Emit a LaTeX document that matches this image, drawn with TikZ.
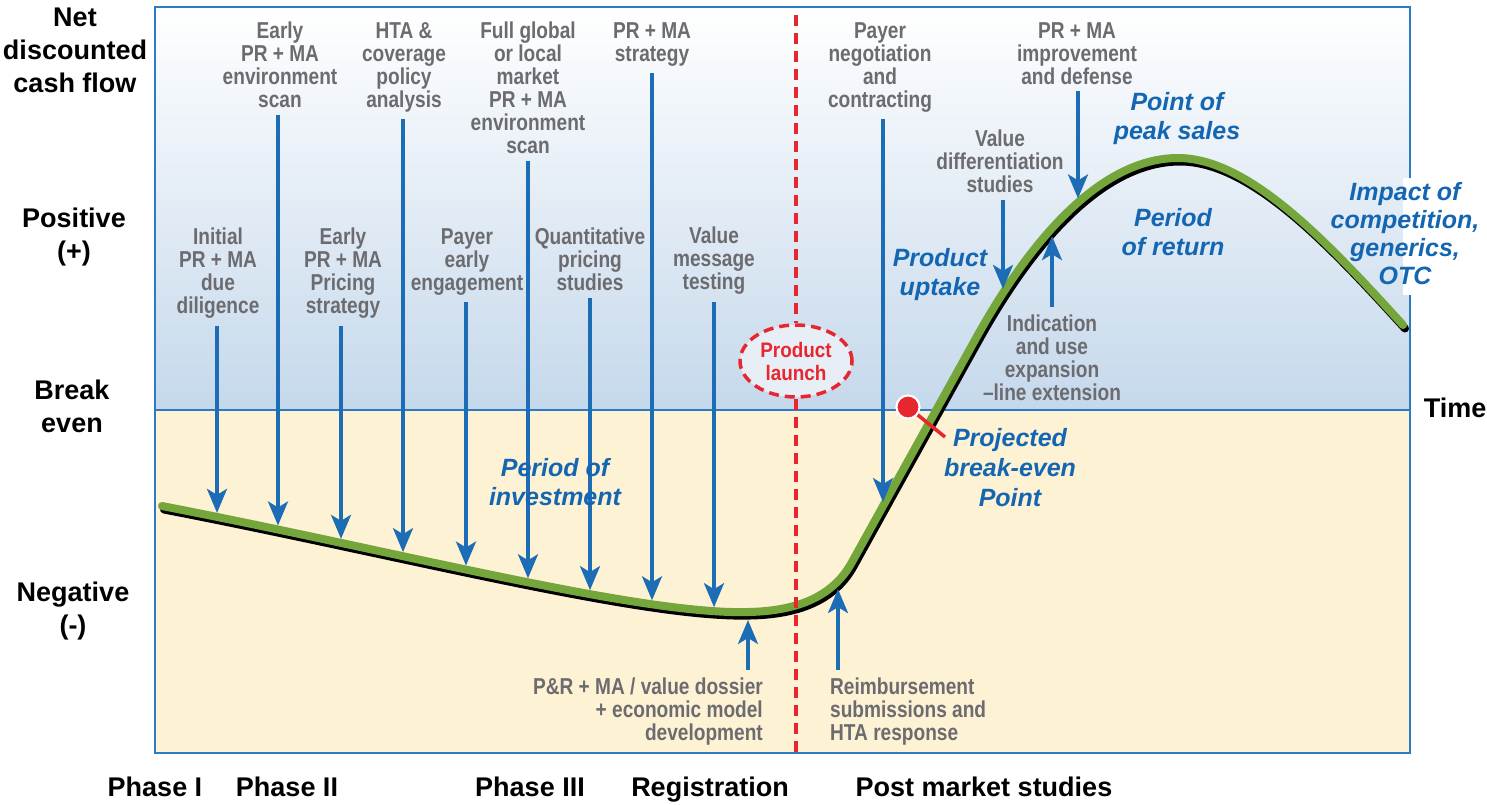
\documentclass[tikz,border=0pt]{standalone}
\usepackage{fontspec}
\setmainfont{Liberation Sans}
\newfontfamily\condfont[FakeStretch=0.83]{Liberation Sans}
\newfontfamily\redfont[FakeStretch=0.9]{Liberation Sans}
\usetikzlibrary{arrows.meta,intersections,shapes.geometric}
\definecolor{graytxt}{RGB}{108,108,112}
\definecolor{bluetxt}{RGB}{20,102,178}
\definecolor{arrblue}{RGB}{28,108,182}
\definecolor{framec}{RGB}{43,124,196}
\definecolor{bgblue}{RGB}{197,216,235}
\definecolor{cream}{RGB}{254,242,212}
\definecolor{curvegreen}{RGB}{116,166,60}
\definecolor{launchred}{RGB}{232,38,47}
\definecolor{ellfill}{RGB}{232,238,246}
\tikzset{
  glabel/.style={font=\condfont\bfseries\fontsize{23}{23}\selectfont, text=graytxt, align=center, inner sep=0pt},
  blabel/.style={font=\bfseries\itshape\fontsize{25}{29}\selectfont, text=bluetxt, align=center, inner sep=0pt},
  klabel/.style={font=\bfseries\fontsize{27}{33}\selectfont, text=black, align=center, inner sep=0pt},
  arr/.style={draw=arrblue, line width=3.5pt, -{Stealth[length=24pt,width=20pt,inset=6pt]}},
  reddash/.style={draw=launchred, line width=3.5pt, dash pattern=on 11pt off 7pt},
}
\begin{document}
\begin{tikzpicture}[x=1pt,y=-1pt]
\useasboundingbox (0,0) rectangle (1487,804);
% backgrounds
\shade[top color=white, bottom color=bgblue] (155,7) rectangle (1410,410);
\fill[cream] (155,410) rectangle (1410,753);
\draw[framec, line width=2pt] (155,410) -- (1410,410);
\draw[framec, line width=2pt] (155,7) rectangle (1410,753);
\fill[white] (1403,178) rectangle (1417,295);

% curve
\path[name path=curve] (162,506) .. controls (400,552) and (640,615) .. (748,612) .. controls (800,611) and (834,595) .. (852,562) -- (975,340) .. controls (1040,222) and (1110,158) .. (1178,158) .. controls (1250,158) and (1330,245) .. (1403,325);
\draw[black, line width=8pt, line cap=round, shift={(2,3.5)}] (162,506) .. controls (400,552) and (640,615) .. (748,612) .. controls (800,611) and (834,595) .. (852,562) -- (975,340) .. controls (1040,222) and (1110,158) .. (1178,158) .. controls (1250,158) and (1330,245) .. (1403,325);
\draw[curvegreen, line width=8pt, line cap=round] (162,506) .. controls (400,552) and (640,615) .. (748,612) .. controls (800,611) and (834,595) .. (852,562) -- (975,340) .. controls (1040,222) and (1110,158) .. (1178,158) .. controls (1250,158) and (1330,245) .. (1403,325);

% points on the curve
\foreach \n/\xx in {1/217,2/278,3/341,4/403,5/466,6/528,7/590,8/652,9/714,10/883,11/1003,12/1078,13/1052,14/748,15/838}{
  \path[name path=vl] (\xx,0) -- (\xx,800);
  \path[name intersections={of=curve and vl, by={c\n}}];
}

% product launch
\coordinate (lt) at (796,15);
\coordinate (lb) at (796,752);
\node[ellipse, draw=launchred, line width=3.5pt, dash pattern=on 10pt off 6pt, fill=ellfill,
      minimum width=112pt, minimum height=72pt, inner sep=0pt, align=center,
      font=\redfont\bfseries\fontsize{21}{23}\selectfont, text=launchred] (launch) at (796,361) {Product\\launch};
\draw[reddash] (lt) -- (launch.north);
\draw[reddash] (launch.south) -- (lb);

% gray labels
\node[glabel, anchor=north] (l1) at (218,228) {Initial\\PR + MA\\due\\diligence};
\node[glabel, anchor=north] (l2) at (280,22) {Early\\PR + MA\\environment\\scan};
\node[glabel, anchor=north] (l3) at (343,228) {Early\\PR + MA\\Pricing\\strategy};
\node[glabel, anchor=north] (l4) at (404,22) {HTA \&\\coverage\\policy\\analysis};
\node[glabel, anchor=north] (l5) at (467,228) {Payer\\early\\engagement};
\node[glabel, anchor=north] (l6) at (528,22) {Full global\\or local\\market\\PR + MA\\environment\\scan};
\node[glabel, anchor=north] (l7) at (590,228) {Quantitative\\pricing\\studies};
\node[glabel, anchor=north] (l8) at (652,22) {PR + MA\\strategy};
\node[glabel, anchor=north] (l9) at (714,227) {Value\\message\\testing};
\node[glabel, anchor=north] (l10) at (880,22) {Payer\\negotiation\\and\\contracting};
\node[glabel, anchor=north] (l11) at (1000,130) {Value\\differentiation\\studies};
\node[glabel, anchor=north] (l12) at (1077,22) {PR + MA\\improvement\\and defense};
\node[glabel, anchor=north] (l13) at (1052,315) {Indication\\and use\\expansion\\–line extension};
\node[glabel, anchor=north east, align=right] (l14) at (763,678) {P\&R + MA / value dossier\\+ economic model\\development};
\node[glabel, anchor=north west, align=left] (l15) at (830,678) {Reimbursement\\submissions and\\HTA response};

% arrows
\foreach \i in {1,...,12}{
  \draw[arr, shorten <=7pt] (l\i.south -| c\i) -- ([yshift=4pt]c\i);
}
\foreach \i in {13,14,15}{
  \draw[arr, shorten <=8pt] (c\i |- l\i.north) -- ([yshift=-8pt]c\i);
}

% break-even point
\coordinate (bend) at (945,437);
\node[circle, fill=launchred, draw=white, line width=2pt, minimum size=23pt, inner sep=0pt] (bedot) at (908,407) {};
\draw[launchred, line width=3.5pt] (bedot.center) -- (bend);
\node[circle, fill=launchred, draw=white, line width=2pt, minimum size=23pt, inner sep=0pt] at (bedot) {};

% blue italic labels
\node[blabel, anchor=north] (inv) at (555,458) {Period of\\investment};
\node[blabel, anchor=north] (upt) at (940,248) {Product\\uptake};
\node[blabel, anchor=north] (peak) at (1177,92) {Point of\\peak sales};
\node[blabel, anchor=north] (ret) at (1173,208) {Period\\of return};
\node[blabel, anchor=north, font=\bfseries\itshape\fontsize{25}{28}\selectfont] (imp) at (1405,182) {Impact of\\competition,\\generics,\\OTC};
\node[blabel, anchor=north, font=\bfseries\itshape\fontsize{25}{30}\selectfont] (bep) at (1010,428) {Projected\\break-even\\Point};

% black axis labels
\node[klabel, anchor=north] (net) at (75,8) {Net\\discounted\\cash flow};
\node[klabel, anchor=north] (pos) at (74,208) {Positive\\(+)};
\node[klabel, anchor=north] (be) at (72,380) {Break\\even};
\node[klabel, anchor=north] (neg) at (73,582) {Negative\\(-)};
\node[klabel, anchor=north] (time) at (1455,398) {Time};
\node[klabel, anchor=north] (ph1) at (155,777) {Phase I};
\node[klabel, anchor=north] (ph2) at (287,777) {Phase II};
\node[klabel, anchor=north] (ph3) at (530,777) {Phase III};
\node[klabel, anchor=north] (reg) at (710,777) {Registration};
\node[klabel, anchor=north] (post) at (984,777) {Post market studies};
\end{tikzpicture}
\end{document}
